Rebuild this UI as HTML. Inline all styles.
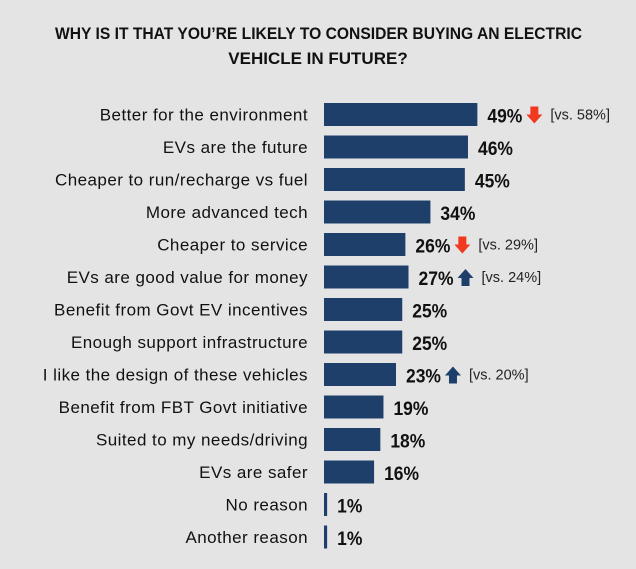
<!DOCTYPE html>
<html><head><meta charset="utf-8"><style>
html,body{margin:0;padding:0;background:#e4e4e4;}
svg{display:block;font-family:"Liberation Sans",sans-serif;}
</style></head><body>
<svg id="chart" width="636" height="569" viewBox="0 0 636 569">
<rect width="636" height="569" fill="#e4e4e4"/>
<text x="55" y="39" textLength="527" lengthAdjust="spacingAndGlyphs" font-size="17" font-weight="bold" fill="#111">WHY IS IT THAT YOU’RE LIKELY TO CONSIDER BUYING AN ELECTRIC</text>
<text x="318" y="64" text-anchor="middle" font-size="17" font-weight="bold" fill="#111">VEHICLE IN FUTURE?</text>
<g id="bars"></g>
</svg>
<script>
const categories=["Better for the environment","EVs are the future","Cheaper to run/recharge vs fuel","More advanced tech","Cheaper to service","EVs are good value for money","Benefit from Govt EV incentives","Enough support infrastructure","I like the design of these vehicles","Benefit from FBT Govt initiative","Suited to my needs/driving","EVs are safer","No reason","Another reason"];
const values=[49,46,45,34,26,27,25,25,23,19,18,16,1,1];
const trends=["down","","","","down","up","","","up","","","","",""];
const previous=[58,null,null,null,29,24,null,null,20,null,null,null,null,null];

const NS="http://www.w3.org/2000/svg";
const g=document.getElementById('bars');
const x0=324, pxPer=3.13, y0=103, step=32.5, bh=23;
const xScale=v=>x0+v*pxPer;
const yScale=i=>y0+i*step;
function mk(tag,attrs,txt){const e=document.createElementNS(NS,tag);for(const k in attrs)e.setAttribute(k,attrs[k]);if(txt!=null)e.textContent=txt;g.appendChild(e);return e;}
categories.forEach((c,i)=>{
  const y=yScale(i), cy=y+bh/2;
  const lab=mk('text',{x:308,y:cy+6,'text-anchor':'end','font-size':17,'letter-spacing':0.45,fill:'#111'},c);
  
  
  const w=Math.max(xScale(values[i])-x0,3);
  const r=mk('rect',{x:x0,y:y,width:w,height:bh,fill:'#1f3f6b'});
  
  
  const vx=x0+w+10;
  const vt=mk('text',{x:vx,y:cy+8,'font-size':19,'font-weight':'bold',fill:'#111',transform:`translate(${vx},0) scale(0.92,1) translate(${-vx},0)`},values[i]+'%');
  
  
  if(trends[i]){
    const ax=vx+vt.getComputedTextLength()*0.92+4;
    let d;
    if(trends[i]==='down'){d=`M${ax+4},${cy-8} h8 v8 h4 l-8,9 l-8,-9 h4 z`;}
    else{d=`M${ax+8},${cy-8} l8,9 h-4 v8 h-8 v-8 h-4 z`;}
    const a=mk('path',{d:d,fill:trends[i]==='down'?'#f0391e':'#1f3f6b'});
    
    
    const pt=mk('text',{x:ax+24,y:cy+5,'font-size':14.5,fill:'#222'},'[vs. '+previous[i]+'%]');
    
    
  }
});
</script>
</body></html>
